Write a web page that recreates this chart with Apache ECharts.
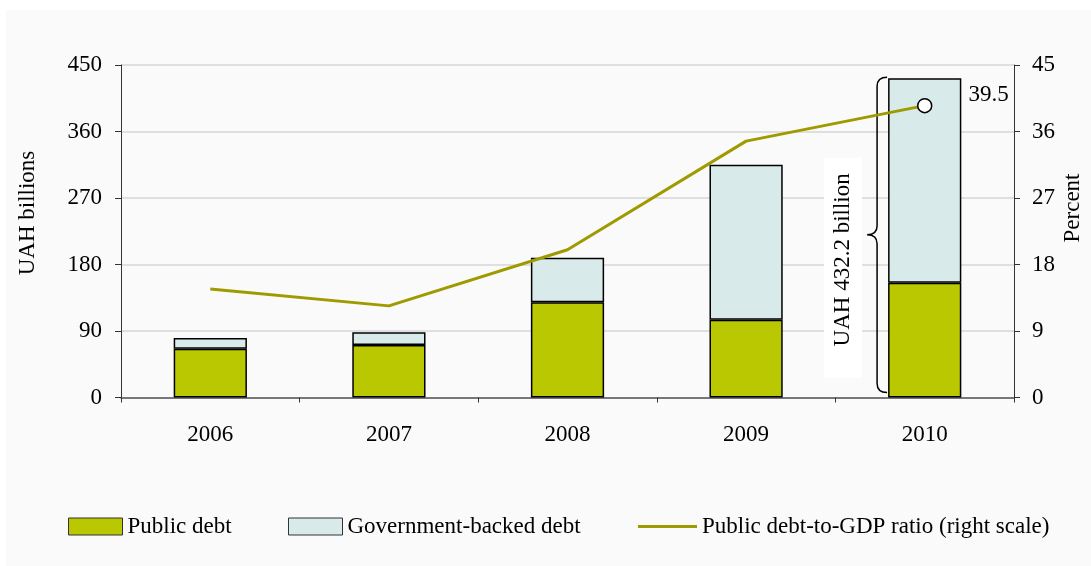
<!DOCTYPE html>
<html>
<head>
<meta charset="utf-8">
<script src="https://cdn.jsdelivr.net/npm/echarts@6/dist/echarts.min.js"></script>
<style>
  html, body { margin: 0; padding: 0; background: #ffffff; }
  #chart { position: absolute; left: 6px; top: 10px; width: 1085px; height: 556px; background: #fafafa; }
</style>
</head>
<body>
<div id="chart"></div>
<script>
// Ukraine: public and government-backed debt, UAH billions, with debt-to-GDP ratio
const years = ['2006', '2007', '2008', '2009', '2010'];
const publicDebt = [66.0, 71.1, 128.8, 105.3, 155.4];
const backedDebt = [14.5, 17.1, 60.4, 209.8, 276.8];
const debtToGdp = [14.7, 12.4, 20.0, 34.7, 39.5];
const leftTicks = [0, 90, 180, 270, 360, 450];
const rightTicks = [0, 9, 18, 27, 36, 45];

const FONT = '"Liberation Serif", "Times New Roman", serif';
const FS = 23;
const GREEN = '#b9c800';
const PALE = '#d8eaea';
const OLIVE = '#9f9a00';

const lastIdx = years.length - 1;
const total2010 = publicDebt[lastIdx] + backedDebt[lastIdx];

const ratioData = debtToGdp.map((v, i) => i === lastIdx ? {
  value: v,
  symbol: 'circle',
  symbolSize: 14,
  itemStyle: { color: '#ffffff', borderColor: '#000000', borderWidth: 1.5 },
  label: {
    show: true, position: 'right', distance: 36, offset: [0, -11],
    formatter: String(v), color: '#000', fontFamily: FONT, fontSize: FS
  }
} : v);

const chart = echarts.init(document.getElementById('chart'), null, { renderer: 'canvas' });

const legendBase = {
  top: 500, itemHeight: 17, itemGap: 0,
  textStyle: { fontFamily: FONT, fontSize: FS, color: '#000' }
};

chart.setOption({
  animation: false,
  backgroundColor: '#fafafa',
  grid: { left: 115, right: 77, top: 55, bottom: 168.5 },
  legend: [
    Object.assign({}, legendBase, {
      left: 57, itemWidth: 54,
      data: [{ name: 'Public debt', icon: 'rect', itemStyle: { borderColor: '#333', borderWidth: 1 } }]
    }),
    Object.assign({}, legendBase, {
      left: 277, itemWidth: 54,
      data: [{ name: 'Government-backed debt', icon: 'rect', itemStyle: { borderColor: '#333', borderWidth: 1 } }]
    }),
    Object.assign({}, legendBase, {
      left: 627, itemWidth: 59,
      data: [{ name: 'Public debt-to-GDP ratio (right scale)', icon: 'path://M0,0H60V3H0Z',
               itemStyle: { color: OLIVE, borderWidth: 0 } }]
    })
  ],
  xAxis: {
    type: 'category',
    data: years,
    axisLine: { lineStyle: { color: '#555555', width: 1.5 } },
    axisTick: { show: true, length: 5, lineStyle: { color: '#333' } },
    axisLabel: { margin: 26, fontFamily: FONT, fontSize: FS, color: '#000' }
  },
  yAxis: [
    {
      type: 'value', min: leftTicks[0], max: leftTicks[leftTicks.length - 1], interval: leftTicks[1] - leftTicks[0],
      axisLine: { show: true, lineStyle: { color: '#333', width: 1 } },
      axisTick: { show: true, length: 6, lineStyle: { color: '#333' } },
      axisLabel: { margin: 19, fontFamily: FONT, fontSize: FS, color: '#000' },
      splitLine: { show: true, lineStyle: { color: '#d6d6d6', width: 1.5 } }
    },
    {
      type: 'value', min: rightTicks[0], max: rightTicks[rightTicks.length - 1], interval: rightTicks[1] - rightTicks[0],
      position: 'right',
      axisLine: { show: true, lineStyle: { color: '#333', width: 1 } },
      axisTick: { show: true, length: 6, lineStyle: { color: '#333' } },
      axisLabel: { margin: 18, fontFamily: FONT, fontSize: FS, color: '#000' },
      splitLine: { show: false }
    }
  ],
  graphic: [
    { type: 'text', x: 22, y: 203, rotation: Math.PI / 2,
      style: { text: 'UAH billions', font: FS + 'px ' + FONT, fill: '#000', align: 'center', verticalAlign: 'middle' } },
    { type: 'text', x: 1067, y: 198, rotation: Math.PI / 2,
      style: { text: 'Percent', font: FS + 'px ' + FONT, fill: '#000', align: 'center', verticalAlign: 'middle' } }
  ],
  series: [
    {
      name: 'Public debt', type: 'bar', stack: 'debt', barWidth: '41%',
      data: publicDebt,
      itemStyle: { color: GREEN, borderColor: '#000', borderWidth: 1.5 }
    },
    {
      name: 'Government-backed debt', type: 'bar', stack: 'debt', barWidth: '41%',
      data: backedDebt,
      itemStyle: { color: PALE, borderColor: '#000', borderWidth: 1.5 }
    },
    {
      name: 'Public debt-to-GDP ratio (right scale)', type: 'line', yAxisIndex: 1,
      data: ratioData, symbol: 'none', z: 5,
      lineStyle: { color: OLIVE, width: 3 },
      itemStyle: { color: OLIVE }
    },
    {
      // curly brace and total annotation beside the last bar
      type: 'custom', yAxisIndex: 0, z: 4, silent: true,
      data: [[lastIdx, total2010]],
      renderItem: function (params, api) {
        const top = api.coord([api.value(0), api.value(1)]);
        const base = api.coord([api.value(0), 0]);
        const bw = api.size([1, 0])[0] * 0.41;
        const left = top[0] - bw / 2;
        const y1 = top[1] - 1;
        const y2 = base[1] - 5;
        const mid = (y1 + y2) / 2;
        const xe = left - 1, xb = left - 11, xt = left - 21;
        const r = 9;
        const path = 'M' + xe + ',' + y1 +
          ' Q' + xb + ',' + y1 + ' ' + xb + ',' + (y1 + r) +
          ' L' + xb + ',' + (mid - r) +
          ' Q' + xb + ',' + mid + ' ' + xt + ',' + mid +
          ' Q' + xb + ',' + mid + ' ' + xb + ',' + (mid + r) +
          ' L' + xb + ',' + (y2 - r) +
          ' Q' + xb + ',' + y2 + ' ' + xe + ',' + y2;
        const tx = left - 45;
        const ty = mid + 25;
        return {
          type: 'group',
          children: [
            { type: 'rect', shape: { x: tx - 19, y: ty - 102, width: 38, height: 220 },
              style: { fill: '#ffffff' } },
            { type: 'path', shape: { pathData: path },
              style: { fill: 'none', stroke: '#000', lineWidth: 1.5 } },
            { type: 'text', x: tx, y: ty, rotation: Math.PI / 2,
              style: { text: 'UAH ' + api.value(1).toFixed(1) + ' billion', font: FS + 'px ' + FONT,
                       fill: '#000', align: 'center', verticalAlign: 'middle' } }
          ]
        };
      }
    }
  ]
});
</script>
</body>
</html>
